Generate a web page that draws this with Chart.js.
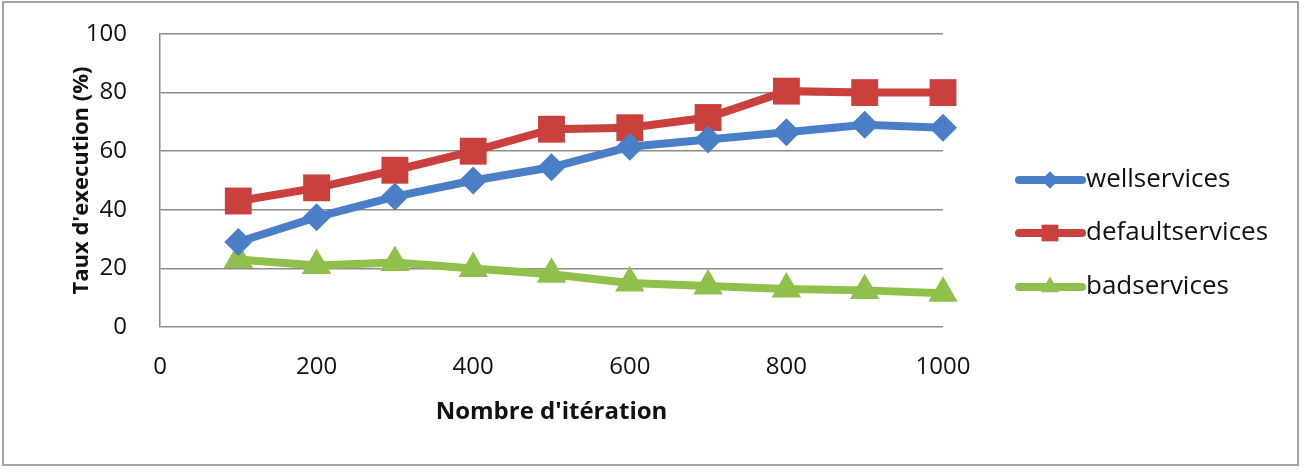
<!DOCTYPE html>
<html>
<head>
<meta charset="utf-8">
<script src="https://cdn.jsdelivr.net/npm/chart.js@4.4.0/dist/chart.umd.min.js"></script>
<style>
  html, body { margin: 0; padding: 0; background: #fff; }
  #wrap { width: 1306px; height: 474px; }
</style>
</head>
<body>
<div id="wrap"><canvas id="myChart" width="1306" height="474"></canvas></div>
<script>
// iterations (x axis)
var iterations = [100, 200, 300, 400, 500, 600, 700, 800, 900, 1000];
// taux d'execution (%)
var wellservices = [29, 37.5, 44.5, 50, 54.5, 61.5, 64, 66.5, 69, 68];
var defaultservices = [43, 47.5, 53.5, 60, 67.5, 68, 71.5, 80.5, 80, 80];
var badservices = [23, 21, 22, 20, 18, 15, 14, 13, 12.5, 11.5];

var seriesNames = ["wellservices", "defaultservices", "badservices"];
var seriesColors = ["#4a7fc8", "#c9403d", "#8fc04c"];
var seriesMarkers = ["rectRot", "rect", "triangle"];
var markerRadius = [14, 19, 17];

function toPoints(values) {
  return iterations.map(function(x, i) { return { x: x, y: values[i] }; });
}

var fontFamily = "'Open Sans', 'Liberation Sans', sans-serif";

var frame = {
  id: "frame",
  beforeDraw: function(chart) {
    var ctx = chart.ctx;
    ctx.save();
    ctx.fillStyle = "#fff";
    ctx.fillRect(0, 0, chart.width, chart.height);
    ctx.strokeStyle = "#a4a4a4";
    ctx.lineWidth = 2;
    ctx.strokeRect(3, 2, 1295, 463);
    ctx.restore();
  }
};

var sideLegend = {
  id: "sideLegend",
  afterDraw: function(chart) {
    var ctx = chart.ctx;
    var ys = [180, 233, 287];
    ctx.save();
    chart.data.datasets.forEach(function(ds, i) {
      var y = ys[i];
      ctx.strokeStyle = ds.borderColor;
      ctx.lineWidth = 8;
      ctx.lineCap = "round";
      ctx.beginPath();
      ctx.moveTo(1019, y);
      ctx.lineTo(1082, y);
      ctx.stroke();
      ctx.fillStyle = ds.pointBackgroundColor;
      Chart.helpers.drawPoint(ctx, {
        pointStyle: ds.pointStyle,
        radius: ds.pointRadius * 0.62,
        rotation: 0,
        borderWidth: 0
      }, 1050, y);
      ctx.fillStyle = "#111";
      ctx.font = "26px " + fontFamily;
      ctx.textBaseline = "middle";
      ctx.textAlign = "left";
      ctx.fillText(ds.label, 1086, y);
    });
    ctx.restore();
  }
};

function printChartJs() {
  var ctx = document.getElementById("myChart").getContext("2d");
  var datasets = [wellservices, defaultservices, badservices].map(function(values, i) {
    return {
      label: seriesNames[i],
      data: toPoints(values),
      borderColor: seriesColors[i],
      backgroundColor: seriesColors[i],
      pointBackgroundColor: seriesColors[i],
      pointBorderColor: seriesColors[i],
      pointBorderWidth: 0,
      pointStyle: seriesMarkers[i],
      pointRadius: markerRadius[i],
      borderWidth: 8,
      tension: 0,
      showLine: true,
      clip: false
    };
  });

  var myChart = new Chart(ctx, {
    type: "line",
    data: { datasets: datasets },
    options: {
      responsive: false,
      animation: false,
      events: [],
      layout: { padding: { left: 0, top: 34, right: 363, bottom: 0 } },
      plugins: {
        legend: { display: false },
        tooltip: { enabled: false }
      },
      scales: {
        x: {
          type: "linear",
          min: 0,
          max: 1000,
          ticks: {
            stepSize: 200,
            padding: 26,
            color: "#111",
            font: { family: fontFamily, size: 24 },
            callback: function(v) { return String(v); }
          },
          grid: { display: false, drawTicks: false },
          border: { display: false },
          title: {
            display: true,
            text: "Nombre d'itération",
            color: "#111",
            padding: 47,
            font: { family: fontFamily, size: 24, weight: "bold" }
          },
          afterFit: function(scale) {
            scale.height = 147;
            scale.paddingLeft = 0;
            scale.paddingRight = 0;
          }
        },
        y: {
          min: 0,
          max: 100,
          ticks: {
            stepSize: 20,
            padding: 33,
            color: "#111",
            font: { family: fontFamily, size: 24 }
          },
          grid: { color: "#8c8c8c", lineWidth: 1.5, drawTicks: false },
          border: { display: true, color: "#8c8c8c", width: 1.5 },
          title: {
            display: true,
            text: "Taux d'execution (%)",
            color: "#111",
            padding: 69,
            font: { family: fontFamily, size: 22, weight: "bold" }
          },
          afterFit: function(scale) {
            scale.width = 160;
            scale.paddingTop = 0;
            scale.paddingBottom = 0;
          }
        }
      }
    },
    plugins: [frame, sideLegend]
  });
}

function init() {
  printChartJs();
}
init();
</script>
</body>
</html>
